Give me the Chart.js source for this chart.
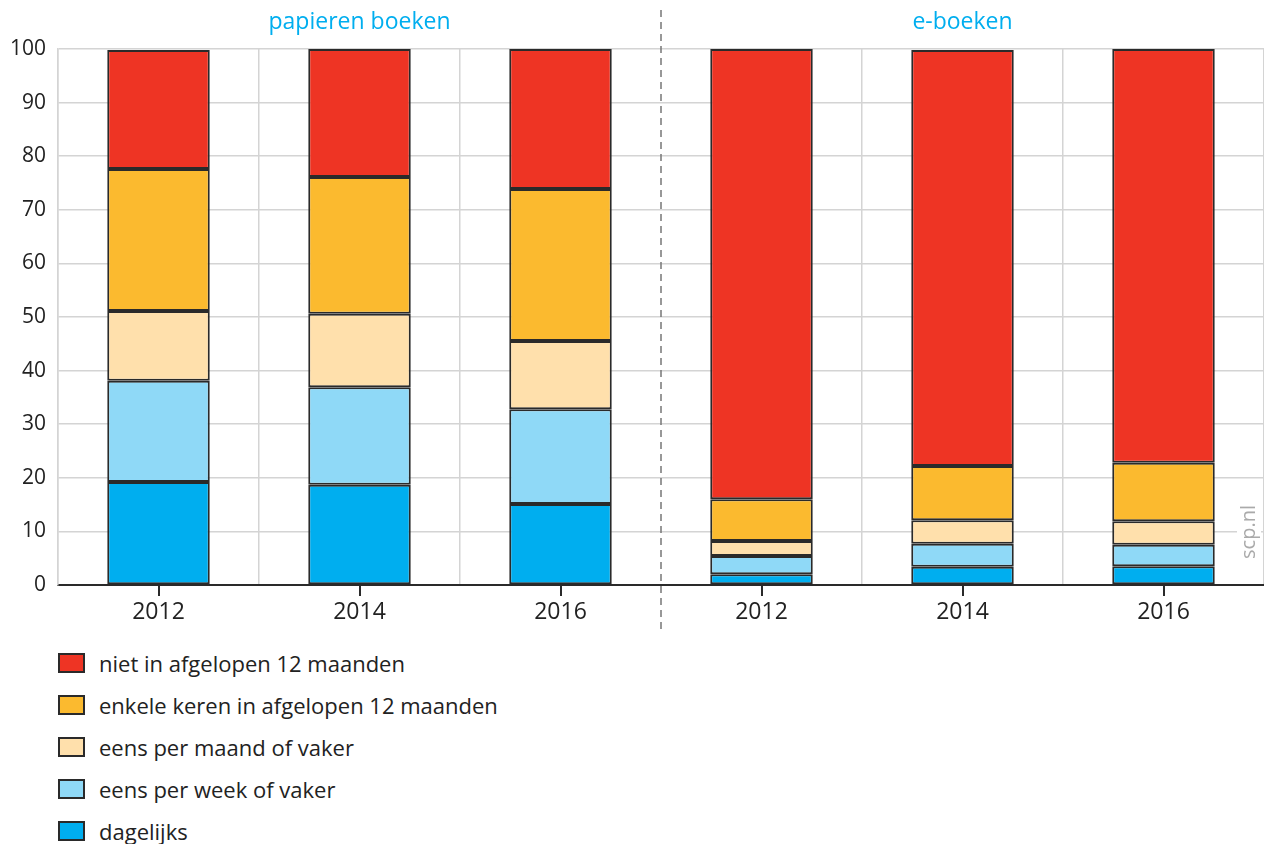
<!DOCTYPE html>
<html>
<head>
<meta charset="utf-8">
<script src="https://cdn.jsdelivr.net/npm/chart.js"></script>
<style>
    body { margin: 0; background: #fff; font-family: 'Open Sans', sans-serif; }
    #wrap { position: relative; width: 1264px; height: 640px; }
    #legend { position: absolute; left: 58px; top: 642px; }
    .item { height: 42px; display: flex; align-items: center; font-size: 22px; color: #222; }
    .box { width: 23px; height: 16px; border: 2px solid #2a2a2a; margin-right: 14px; }
</style>
</head>
<body>
<div id="wrap"><canvas id="chart" width="1264" height="640"></canvas></div>
<div id="legend"></div>
<script>
const categories = ['2012', '2014', '2016', '2012', '2014', '2016'];
const groups = ['papieren boeken', 'e-boeken'];
const seriesNames = ['dagelijks', 'eens per week of vaker', 'eens per maand of vaker', 'enkele keren in afgelopen 12 maanden', 'niet in afgelopen 12 maanden'];
const dagelijks = [19.2, 18.7, 15.1, 2.0, 3.4, 3.5];
const week = [18.9, 18.2, 17.7, 3.4, 4.3, 4.0];
const maand = [13.0, 13.7, 12.7, 2.8, 4.4, 4.4];
const enkele = [26.5, 25.5, 28.4, 7.8, 10.1, 10.9];
const niet = [22.2, 23.9, 26.1, 84.0, 77.6, 77.2];
const colors = ['#00aeef', '#8fd9f7', '#ffe0ac', '#fbba2f', '#ee3424'];

const values = [dagelijks, week, maand, enkele, niet];

const extras = {
    id: 'extras',
    afterDraw(chart) {
        const ctx = chart.ctx;
        const x = chart.scales.x;
        const area = chart.chartArea;
        ctx.save();
        // tick marks under the axis
        ctx.strokeStyle = '#2a2a2a';
        ctx.lineWidth = 2;
        for (let i = 0; i < categories.length; i++) {
            const px = Math.round(x.getPixelForTick(i));
            ctx.beginPath();
            ctx.moveTo(px, area.bottom);
            ctx.lineTo(px, area.bottom + 11);
            ctx.stroke();
        }
        // divider between groups
        const mid = (x.getPixelForTick(2) + x.getPixelForTick(3)) / 2;
        ctx.strokeStyle = '#777';
        ctx.lineWidth = 1.5;
        ctx.setLineDash([7, 5]);
        ctx.beginPath();
        ctx.moveTo(mid, 10);
        ctx.lineTo(mid, 632);
        ctx.stroke();
        ctx.setLineDash([]);
        // group titles
        ctx.fillStyle = '#00aeef';
        ctx.font = '23px "Open Sans"';
        ctx.textAlign = 'center';
        ctx.textBaseline = 'middle';
        ctx.fillText(groups[0], x.getPixelForTick(1), 22);
        ctx.fillText(groups[1], x.getPixelForTick(4), 22);
        // source
        ctx.translate(1249, 532);
        ctx.rotate(-Math.PI / 2);
        ctx.fillStyle = '#fff';
        ctx.fillRect(-36, -12, 72, 24);
        ctx.fillStyle = '#aaa';
        ctx.font = '20px "Open Sans"';
        ctx.fillText('scp.nl', 0, 0);
        ctx.restore();
    }
};

new Chart(document.getElementById('chart'), {
    type: 'bar',
    data: {
        labels: categories,
        datasets: values.map((v, i) => ({
            label: seriesNames[i],
            data: v,
            backgroundColor: colors[i],
            borderColor: '#2a2a2a',
            borderWidth: 2,
            borderSkipped: false,
            categoryPercentage: 1,
            barPercentage: 0.51
        }))
    },
    options: {
        responsive: false,
        animation: false,
        layout: { padding: { top: 49, right: 0 } },
        plugins: { legend: { display: false }, tooltip: { enabled: false } },
        scales: {
            x: {
                stacked: true,
                grid: {
                    color: ctx => ctx.index === 3 ? 'rgba(0,0,0,0)' : '#d4d4d4',
                    lineWidth: 1.5,
                    drawTicks: false
                },
                border: { color: '#2a2a2a', width: 2 },
                ticks: { color: '#222', font: { family: 'Open Sans', size: 23 }, padding: 14, maxRotation: 0, autoSkip: false },
                afterFit: s => { s.height = 55; }
            },
            y: {
                stacked: true,
                min: 0,
                max: 100,
                grid: { color: '#d4d4d4', lineWidth: 1.5, drawTicks: false },
                border: { color: '#d4d4d4', width: 1.5 },
                ticks: { stepSize: 10, color: '#222', font: { family: 'Open Sans', size: 21 }, padding: 12 },
                afterFit: s => { s.width = 58; }
            }
        }
    },
    plugins: [extras]
});

// legend, top item first as in the stack
const $legend = document.getElementById('legend');
for (let i = seriesNames.length - 1; i >= 0; i--) {
    const row = document.createElement('div');
    row.className = 'item';
    row.innerHTML = '<span class="box" style="background:' + colors[i] + '"></span>' + seriesNames[i];
    $legend.appendChild(row);
}
</script>
</body>
</html>
